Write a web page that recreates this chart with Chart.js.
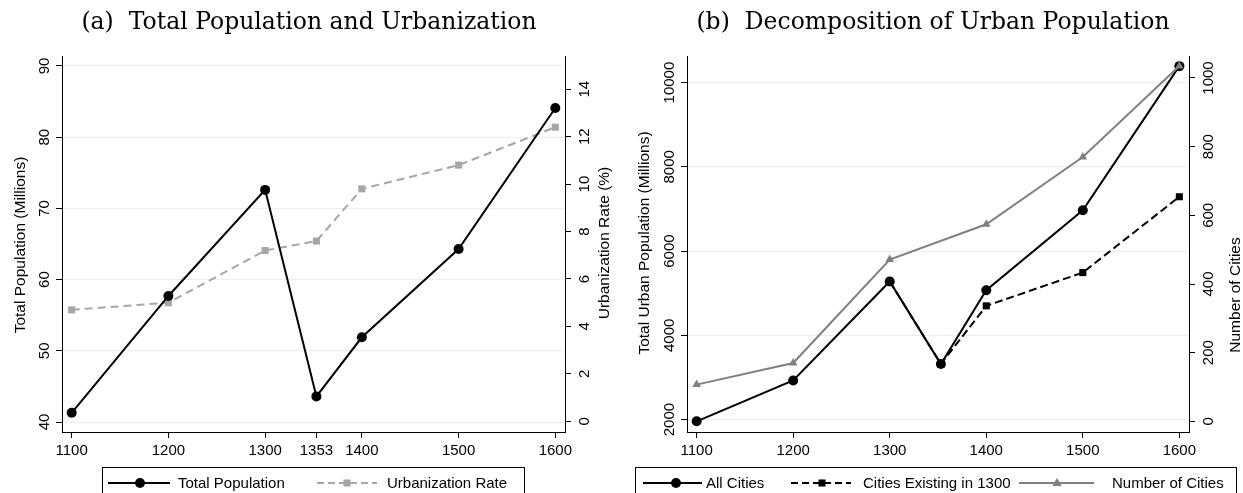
<!DOCTYPE html>
<html>
<head>
<meta charset="utf-8">
<script src="https://cdn.jsdelivr.net/npm/chart.js@4.4.1/dist/chart.umd.min.js"></script>
<style>
  body { margin: 0; background: #fff; }
  #wrap { position: relative; width: 1243px; height: 493px; overflow: hidden; }
  canvas { position: absolute; top: 0; }
</style>
</head>
<body>
<div id="wrap">
  <canvas id="chartA" width="621" height="493" style="left:0"></canvas>
  <canvas id="chartB" width="622" height="493" style="left:621px"></canvas>
</div>
<script>
// data
const years = [1100, 1200, 1300, 1353, 1400, 1500, 1600];
const totalPopulation = [41.3, 57.7, 72.6, 43.6, 51.9, 64.3, 84.1];
const urbanizationRate = [4.7, 5.0, 7.2, 7.6, 9.8, 10.8, 12.4];
const allCities = [1960, 2930, 5280, 3320, 5070, 6970, 10390];
const citiesExisting1300 = [null, null, 5280, 3320, 4700, 5490, 7290];
const numberOfCities = [107, 170, 471, null, 574, 770, 1035];

const yearTicksA = [1100, 1200, 1300, 1353, 1400, 1500, 1600];
const yearTicksB = [1100, 1200, 1300, 1400, 1500, 1600];
const popTicks = [40, 50, 60, 70, 80, 90];
const urbTicks = [0, 2, 4, 6, 8, 10, 12, 14];
const urbanPopTicks = [2000, 4000, 6000, 8000, 10000];
const cityCountTicks = [0, 200, 400, 600, 800, 1000];

Chart.defaults.font.family = '"Liberation Sans", Arial, sans-serif';
Chart.defaults.font.size = 15;
Chart.defaults.color = '#000';

const GRID = '#e6eff1';

function pairs(vals) {
  return years.map((x, i) => ({ x: x, y: vals[i] })).filter(p => p.y !== null);
}

function setTicks(list) {
  return function (scale) { scale.ticks = list.map(v => ({ value: v })); };
}
function fixWidth(w) {
  return function (scale) { scale.width = w; };
}
function fixHeight(h) {
  return function (scale) { scale.height = h; };
}

function xScale(ticks) {
  return {
    type: 'linear', min: 1090, max: 1610,
    afterBuildTicks: setTicks(ticks),
    afterFit: fixHeight(61),
    border: { display: true, color: '#000', width: 1 },
    grid: { drawOnChartArea: false, tickLength: 6, tickColor: '#000' },
    ticks: { autoSkip: false, maxRotation: 0, padding: 4, callback: v => String(v) }
  };
}

function yScale(pos, min, max, ticks, width, showGrid) {
  return {
    type: 'linear', position: pos, min: min, max: max,
    afterBuildTicks: setTicks(ticks),
    afterFit: fixWidth(width),
    border: { display: true, color: '#000', width: 1 },
    grid: { drawOnChartArea: showGrid, color: GRID, lineWidth: 1, tickLength: 6, tickColor: '#000' },
    ticks: { display: false }
  };
}

function drawMarker(ctx, style, x, y, r, color) {
  ctx.fillStyle = color;
  ctx.beginPath();
  if (style === 'circle') {
    ctx.arc(x, y, r, 0, Math.PI * 2);
  } else if (style === 'rect') {
    const s = r * Math.SQRT1_2;
    ctx.rect(x - s, y - s, 2 * s, 2 * s);
  } else {
    ctx.moveTo(x, y - r);
    ctx.lineTo(x + r * 0.95, y + r * 0.6);
    ctx.lineTo(x - r * 0.95, y + r * 0.6);
    ctx.closePath();
  }
  ctx.fill();
}

// title, rotated y tick labels, axis titles and the boxed legend
const decor = {
  id: 'decor',
  afterDraw(chart, args, o) {
    const ctx = chart.ctx;
    const area = chart.chartArea;
    ctx.save();
    ctx.fillStyle = '#000';
    ctx.textAlign = 'center';
    ctx.textBaseline = 'middle';
    ctx.font = '23.5px "DejaVu Serif", serif';
    ctx.fillText(o.title, o.titleX, 23);

    o.axes.forEach(a => {
      const s = chart.scales[a.id];
      const x = s.position === 'left' ? area.left - 18.5 : area.right + 18.5;
      ctx.font = '15px "Liberation Sans", Arial, sans-serif';
      s.ticks.forEach(t => {
        const y = s.getPixelForValue(t.value);
        ctx.save();
        ctx.translate(x, y);
        ctx.rotate(-Math.PI / 2);
        ctx.fillText(String(t.value), 0, 1);
        ctx.restore();
      });
      ctx.font = '15.5px "Liberation Sans", Arial, sans-serif';
      ctx.save();
      ctx.translate(a.titleX, a.titleY);
      ctx.rotate(-Math.PI / 2);
      ctx.fillText(a.title, 0, 0);
      ctx.restore();
    });

    // legend
    ctx.font = '15px "Liberation Sans", Arial, sans-serif';
    const L = o.legend;
    ctx.strokeStyle = '#000';
    ctx.lineWidth = 1;
    ctx.strokeRect(L.left + 0.5, L.top + 0.5, L.right - L.left, 60);
    const ly = L.top + 16;
    L.items.forEach(it => {
      ctx.save();
      ctx.strokeStyle = it.color;
      ctx.lineWidth = 2;
      ctx.setLineDash(it.dash || []);
      ctx.beginPath();
      ctx.moveTo(it.x0, ly);
      ctx.lineTo(it.x1, ly);
      ctx.stroke();
      ctx.restore();
      drawMarker(ctx, it.marker, it.mx, ly, it.r, it.color);
      ctx.fillStyle = '#000';
      ctx.textAlign = 'left';
      ctx.fillText(it.text, it.tx, ly + 1);
    });
    ctx.restore();
  }
};

// (a) Total Population and Urbanization
new Chart(document.getElementById('chartA'), {
  type: 'line',
  data: {
    datasets: [
      {
        label: 'Total Population', data: pairs(totalPopulation), yAxisID: 'yPop',
        borderColor: '#000', backgroundColor: '#000', borderWidth: 2,
        pointStyle: 'circle', pointRadius: 5, pointBorderWidth: 0
      },
      {
        label: 'Urbanization Rate', data: pairs(urbanizationRate), yAxisID: 'yUrb',
        borderColor: '#a6a6a6', backgroundColor: '#a6a6a6', borderWidth: 2, borderDash: [8, 5],
        pointStyle: 'rect', pointRadius: 5, pointBorderWidth: 0
      }
    ]
  },
  options: {
    responsive: false, animation: false,
    layout: { padding: { top: 56, left: 0, right: 0, bottom: 0 } },
    elements: { line: { tension: 0 } },
    plugins: {
      legend: { display: false }, tooltip: { enabled: false },
      decor: {
        title: '(a)  Total Population and Urbanization', titleX: 309,
        axes: [
          { id: 'yPop', title: 'Total Population (Millions)', titleX: 21, titleY: 245 },
          { id: 'yUrb', title: 'Urbanization Rate (%)', titleX: 605, titleY: 243 }
        ],
        legend: {
          left: 102, right: 524, top: 467,
          items: [
            { text: 'Total Population', color: '#000', marker: 'circle', r: 5, x0: 108, x1: 170, mx: 140, tx: 178 },
            { text: 'Urbanization Rate', color: '#a6a6a6', marker: 'rect', r: 5, dash: [7, 4], x0: 317, x1: 377, mx: 347, tx: 387 }
          ]
        }
      }
    },
    scales: {
      x: xScale(yearTicksA),
      yPop: yScale('left', 38.6, 91.4, popTicks, 62, true),
      yUrb: yScale('right', -0.45, 15.4, urbTicks, 56, false)
    }
  },
  plugins: [decor]
});

// (b) Decomposition of Urban Population
new Chart(document.getElementById('chartB'), {
  type: 'line',
  data: {
    datasets: [
      {
        label: 'All Cities', data: pairs(allCities), yAxisID: 'yUrban', order: 1,
        borderColor: '#000', backgroundColor: '#000', borderWidth: 2,
        pointStyle: 'circle', pointRadius: 5, pointBorderWidth: 0
      },
      {
        label: 'Cities Existing in 1300', data: pairs(citiesExisting1300), yAxisID: 'yUrban', order: 2,
        borderColor: '#000', backgroundColor: '#000', borderWidth: 2, borderDash: [8, 4],
        pointStyle: 'rect', pointRadius: 5, pointBorderWidth: 0
      },
      {
        label: 'Number of Cities', data: pairs(numberOfCities), yAxisID: 'yCount', order: 0,
        borderColor: '#808080', backgroundColor: '#808080', borderWidth: 2,
        pointStyle: 'triangle', pointRadius: 5, pointBorderWidth: 0
      }
    ]
  },
  options: {
    responsive: false, animation: false,
    layout: { padding: { top: 56, left: 0, right: 0, bottom: 0 } },
    elements: { line: { tension: 0 } },
    plugins: {
      legend: { display: false }, tooltip: { enabled: false },
      decor: {
        title: '(b)  Decomposition of Urban Population', titleX: 312,
        axes: [
          { id: 'yUrban', title: 'Total Urban Population (Millions)', titleX: 24, titleY: 243 },
          { id: 'yCount', title: 'Number of Cities', titleX: 615, titleY: 295 }
        ],
        legend: {
          left: 14, right: 615, top: 467,
          items: [
            { text: 'All Cities', color: '#000', marker: 'circle', r: 5, x0: 22, x1: 81, mx: 55, tx: 85 },
            { text: 'Cities Existing in 1300', color: '#000', marker: 'rect', r: 5, dash: [7, 4], x0: 170, x1: 230, mx: 201, tx: 242 },
            { text: 'Number of Cities', color: '#808080', marker: 'triangle', r: 5, x0: 398, x1: 473, mx: 436, tx: 491 }
          ]
        }
      }
    },
    scales: {
      x: xScale(yearTicksB),
      yUrban: yScale('left', 1706, 10631, urbanPopTicks, 66, true),
      yCount: yScale('right', -31, 1064, cityCountTicks, 54, false)
    }
  },
  plugins: [decor]
});
</script>
</body>
</html>
